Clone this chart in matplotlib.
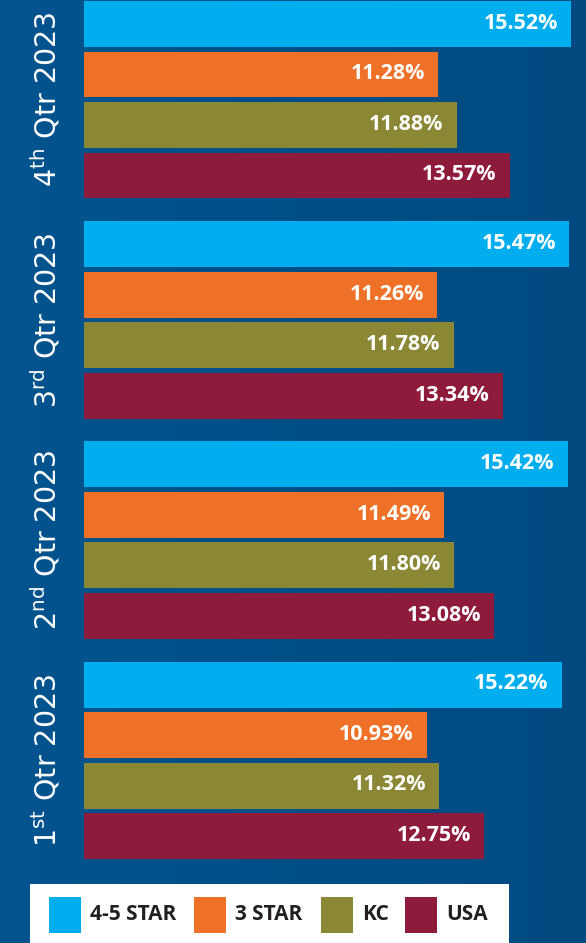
import numpy as np
import matplotlib
matplotlib.use("Agg")
import matplotlib.pyplot as plt
from matplotlib.patches import Rectangle

# data, top group first
quarters = ["4", "3", "2", "1"]
suffixes = ["th", "rd", "nd", "st"]
series = ["4-5 STAR", "3 STAR", "KC", "USA"]
star45 = [15.52, 15.47, 15.42, 15.22]
star3 = [11.28, 11.26, 11.49, 10.93]
kc = [11.88, 11.78, 11.80, 11.32]
usa = [13.57, 13.34, 13.08, 12.75]
colors = ["#00aeef", "#ee7127", "#8a8735", "#8f1b3c"]

plt.rcParams["mathtext.fontset"] = "custom"
plt.rcParams["mathtext.rm"] = "Liberation Sans Narrow"

W, H = 586, 943
fig = plt.figure(figsize=(W / 100, H / 100), dpi=100)

# background gradient
bg = fig.add_axes([0, 0, 1, 1], zorder=0)
grad = np.linspace(0, 1, 256)[None, :]
cmap = matplotlib.colors.LinearSegmentedColormap.from_list("bg", ["#03548f", "#004a80"])
bg.imshow(grad, aspect="auto", cmap=cmap, extent=[0, 1, 0, 1])
bg.set_axis_off()

# main bars
ax = fig.add_axes([84 / W, 1 - 870 / H, 1 - 84 / W, 870 / H], zorder=1)
ax.patch.set_alpha(0)
group_step = 4.36
bar_h = 0.91
all_vals = [star45, star3, kc, usa]
for j, (vals, c) in enumerate(zip(all_vals, colors)):
    ys = [g * group_step + j for g in range(len(quarters))]
    ax.barh(ys, vals, height=bar_h, color=c)
    for y, v in zip(ys, vals):
        ax.annotate(f"{v:.2f}%", xy=(v, y), xytext=(-9.5, 0.5), textcoords="offset points",
                    ha="right", va="center", color="white", fontsize=15.5,
                    fontweight="bold", family="Open Sans")

ax.set_xlim(0, 16)
ax.set_ylim(16.75, -0.475)
ax.set_axis_off()

# rotated quarter labels
for g, (q, s) in enumerate(zip(quarters, suffixes)):
    yc = g * group_step + 1.5
    ax.annotate(q + r"$^{\mathrm{" + s + "}}$ Qtr 2023", xy=(0, yc), xycoords="data",
                xytext=(-38, 0), textcoords="offset pixels", rotation=90,
                ha="center", va="center", color="white", fontsize=20.5,
                family="Liberation Sans Narrow", annotation_clip=False)

# legend box
fig.patches.append(Rectangle((30 / W, 0), 479 / W, 59 / H, transform=fig.transFigure,
                             facecolor="white", edgecolor="none", zorder=2))
patch_x = [49, 194, 321, 405]
for x, lab, c in zip(patch_x, series, colors):
    fig.patches.append(Rectangle((x / W, 1 - 933 / H), 32 / W, 36 / H,
                                 transform=fig.transFigure, facecolor=c,
                                 edgecolor="none", zorder=3))
    fig.text((x + 41) / W, 1 - 915 / H, lab, ha="left", va="center",
             fontsize=15, fontweight="bold", family="Open Sans", color="#231f20", zorder=4)

fig.savefig("out.png", dpi=100)
